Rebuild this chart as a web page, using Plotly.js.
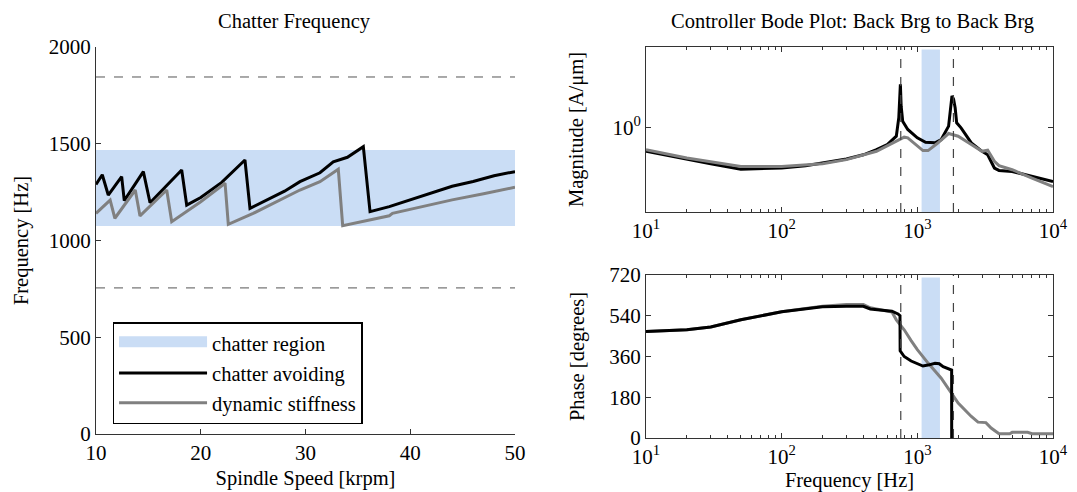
<!DOCTYPE html>
<html><head><meta charset="utf-8">
<script src="https://cdn.plot.ly/plotly-3.0.1.min.js"></script>
<style>html,body{margin:0;padding:0;background:#fff}</style>
</head><body><div id="chart" style="width:1077px;height:492px"></div>
<script>
// ---- Left: chatter frequency vs spindle speed ----
const chatterRegion = [1075, 1468];   // Hz
const limitLines = [755, 1845];       // Hz (dashed)
const speedAvoid = [10, 10.6, 11.17, 12.45, 12.7, 14.52, 15.16, 18.18, 18.66, 20, 22, 24.22, 24.7, 26, 28, 29.47, 31.38, 32.65, 34, 35.52, 36.16, 38, 40, 42.2, 44, 46, 48, 50];
const freqAvoid  = [1290, 1340, 1235, 1330, 1206, 1356, 1195, 1364, 1183, 1222, 1300, 1416, 1166, 1200, 1255, 1304, 1350, 1407, 1430, 1485, 1149, 1175, 1210, 1252, 1280, 1305, 1335, 1356];
const speedStiff = [10, 11.35, 11.8, 13.75, 14.2, 16.75, 17.23, 20, 22.32, 22.63, 25, 27, 29.47, 31.38, 33.13, 33.55, 36, 38, 38.3, 41, 44, 47, 50];
const freqStiff  = [1140, 1209, 1115, 1261, 1127, 1261, 1097, 1200, 1296, 1084, 1140, 1195, 1261, 1304, 1368, 1077, 1105, 1128, 1140, 1175, 1210, 1242, 1275];
const speedTicks = [10, 20, 30, 40, 50];
const freqTicks = [0, 500, 1000, 1500, 2000];

// ---- Right: controller Bode plot ----
const fMagAvoid = [10, 20, 30, 50, 100, 150, 200, 300, 400, 500, 600, 700, 730, 750, 760, 780, 850, 1000, 1150, 1350, 1500, 1700, 1800, 1850, 1900, 1950, 2100, 2500, 3000, 3300, 3700, 4000, 5000, 7000, 10000];
const magAvoid  = [0.823, 0.769, 0.743, 0.711, 0.718, 0.732, 0.748, 0.773, 0.80, 0.834, 0.870, 0.931, 1.083, 1.424, 1.19, 1.053, 0.984, 0.919, 0.886, 0.882, 0.906, 1.011, 1.294, 1.259, 1.175, 1.039, 0.997, 0.882, 0.823, 0.80, 0.718, 0.704, 0.698, 0.670, 0.643];
const fMagStiff = [10, 20, 50, 100, 200, 300, 500, 700, 800, 850, 1000, 1100, 1200, 1400, 1700, 2000, 2500, 3000, 3300, 3700, 4000, 5000, 7000, 10000];
const magStiff  = [0.834, 0.779, 0.727, 0.727, 0.743, 0.769, 0.823, 0.894, 0.924, 0.919, 0.857, 0.828, 0.828, 0.877, 0.952, 0.931, 0.870, 0.823, 0.830, 0.758, 0.732, 0.708, 0.661, 0.617];
const fPhAvoid  = [10, 20, 30, 50, 100, 200, 300, 400, 450, 550, 650, 720, 745, 747, 800, 900, 1000, 1100, 1200, 1350, 1450, 1550, 1790, 1792];
const phAvoid   = [470, 478, 490, 522, 558, 580, 582, 582, 570, 566, 560, 548, 540, 385, 360, 340, 330, 318, 322, 330, 328, 315, 300, -20];
const fPhStiff  = [10, 20, 30, 50, 100, 200, 300, 400, 450, 550, 650, 700, 800, 900, 1000, 1200, 1500, 2000, 2500, 2800, 3200, 3500, 4000, 4800, 5000, 6500, 7000, 10000];
const phStiff   = [470, 478, 490, 522, 558, 582, 590, 590, 575, 566, 556, 522, 478, 430, 390, 331, 264, 154, 95, 70, 68, 44, 19, 19, 25, 25, 19, 19];
const freqTickVals = [10, 100, 1000, 10000];
const freqTickText = ['10<sup>1</sup>', '10<sup>2</sup>', '10<sup>3</sup>', '10<sup>4</sup>'];
const freqMinorTicks = [20, 30, 40, 50, 60, 70, 80, 90, 200, 300, 400, 500, 600, 700, 800, 900, 2000, 3000, 4000, 5000, 6000, 7000, 8000, 9000];
const magTickVals = [1];
const magTickText = ['10<sup>0</sup>'];
const phaseTicks = [0, 180, 360, 540, 720];

const blue = 'rgb(202,221,245)';
const font = {family: 'Liberation Serif, serif', size: 20.5, color: '#000'};
const tickFont = {family: 'Liberation Serif, serif', size: 21, color: '#000'};

const traces = [
  // legend entry for the chatter region (band itself drawn as shapes below)
  {x: [null], y: [null], mode: 'lines', fill: 'toself', fillcolor: blue, line: {width: 13, color: blue},
   name: 'chatter region', xaxis: 'x', yaxis: 'y', hoverinfo: 'skip'},
  {x: speedAvoid, y: freqAvoid, mode: 'lines', line: {color: '#000', width: 3}, name: 'chatter avoiding', xaxis: 'x', yaxis: 'y'},
  {x: speedStiff, y: freqStiff, mode: 'lines', line: {color: '#808080', width: 3}, name: 'dynamic stiffness', xaxis: 'x', yaxis: 'y'},
  {x: fMagAvoid, y: magAvoid, mode: 'lines', line: {color: '#000', width: 3}, showlegend: false, xaxis: 'x2', yaxis: 'y2'},
  {x: fMagStiff, y: magStiff, mode: 'lines', line: {color: '#808080', width: 3}, showlegend: false, xaxis: 'x2', yaxis: 'y2'},
  {x: fPhStiff, y: phStiff, mode: 'lines', line: {color: '#808080', width: 3}, showlegend: false, xaxis: 'x3', yaxis: 'y3'},
  {x: fPhAvoid, y: phAvoid, mode: 'lines', line: {color: '#000', width: 3}, showlegend: false, xaxis: 'x3', yaxis: 'y3'}
];

const shapes = [];
shapes.push({type: 'rect', xref: 'x', yref: 'y', x0: speedTicks[0], x1: speedTicks[speedTicks.length - 1], y0: chatterRegion[0], y1: chatterRegion[1], fillcolor: blue, line: {width: 0}, layer: 'below'});
limitLines.forEach(v => shapes.push({type: 'line', xref: 'x', yref: 'y', x0: speedTicks[0], x1: speedTicks[speedTicks.length - 1], y0: v, y1: v, line: {color: '#555', width: 1, dash: 'dash'}, layer: 'above'}));
['y2', 'y3'].forEach((ya, i) => {
  const xa = i === 0 ? 'x2' : 'x3';
  shapes.push({type: 'rect', xref: xa, yref: ya + ' domain', x0: chatterRegion[0], x1: chatterRegion[1], y0: 0, y1: 0.985, fillcolor: blue, line: {width: 0}, layer: 'below'});
  limitLines.forEach(v => shapes.push({type: 'line', xref: xa, yref: ya + ' domain', x0: v, x1: v, y0: 0, y1: 1, line: {color: '#444', width: 1.2, dash: 'dash'}, layer: 'above'}));
});

const axBase = {showgrid: false, zeroline: false, showline: true, linecolor: '#333', linewidth: 1, ticks: 'inside', ticklen: 5, tickcolor: '#333', tickfont: tickFont};
const minorTicks = {tickmode: 'array', tickvals: freqMinorTicks, ticks: 'inside', ticklen: 3, tickcolor: '#333', showgrid: false};

const layout = {
  width: 1077, height: 492,
  margin: {l: 0, r: 0, t: 0, b: 0},
  paper_bgcolor: '#fff', plot_bgcolor: 'rgba(0,0,0,0)',
  font: font,
  showlegend: true,
  legend: {x: 0.1045, y: 0.3455, xanchor: 'left', yanchor: 'top', bgcolor: '#fff', bordercolor: '#000', borderwidth: 1.5, font: font, itemwidth: 88, tracegroupgap: 0},
  xaxis: Object.assign({}, axBase, {domain: [96/1077, 515/1077], range: [10, 50], tickvals: speedTicks, anchor: 'y',
    title: {text: 'Spindle Speed [krpm]', font: font, standoff: 6}}),
  yaxis: Object.assign({}, axBase, {domain: [1 - 434/492, 1 - 47/492], range: [0, 2000], tickvals: freqTicks, anchor: 'x',
    title: {text: 'Frequency [Hz]', font: font, standoff: 14}}),
  xaxis2: Object.assign({}, axBase, {type: 'log', domain: [646/1077, 1053/1077], range: [1, 4], anchor: 'y2', mirror: 'ticks',
    tickmode: 'array', tickvals: freqTickVals, ticktext: freqTickText, minor: minorTicks}),
  yaxis2: Object.assign({}, axBase, {type: 'log', domain: [1 - 212/492, 1 - 47/492], range: [-0.3, 0.2857], anchor: 'x2', mirror: 'ticks',
    tickmode: 'array', tickvals: magTickVals, ticktext: magTickText,
    title: {text: 'Magnitude [A/μm]', font: font, standoff: 23}}),
  xaxis3: Object.assign({}, axBase, {type: 'log', domain: [646/1077, 1053/1077], range: [1, 4], anchor: 'y3', mirror: 'ticks',
    tickmode: 'array', tickvals: freqTickVals, ticktext: freqTickText, minor: minorTicks,
    title: {text: 'Frequency [Hz]', font: font, standoff: 2}}),
  yaxis3: Object.assign({}, axBase, {domain: [1 - 438/492, 1 - 275/492], range: [0, 720], anchor: 'x3', mirror: 'ticks',
    tickvals: phaseTicks, title: {text: 'Phase [degrees]', font: font, standoff: 19}}),
  shapes: shapes,
  annotations: [
    {text: 'Chatter Frequency', xref: 'paper', yref: 'paper', x: 294/1077, y: 1 - 22/492, xanchor: 'center', yanchor: 'middle', showarrow: false, font: font},
    {text: 'Controller Bode Plot: Back Brg to Back Brg', xref: 'paper', yref: 'paper', x: 852/1077, y: 1 - 22/492, xanchor: 'center', yanchor: 'middle', showarrow: false, font: font}
  ]
};

Plotly.newPlot('chart', traces, layout, {staticPlot: true, displayModeBar: false});
</script>
</body></html>
